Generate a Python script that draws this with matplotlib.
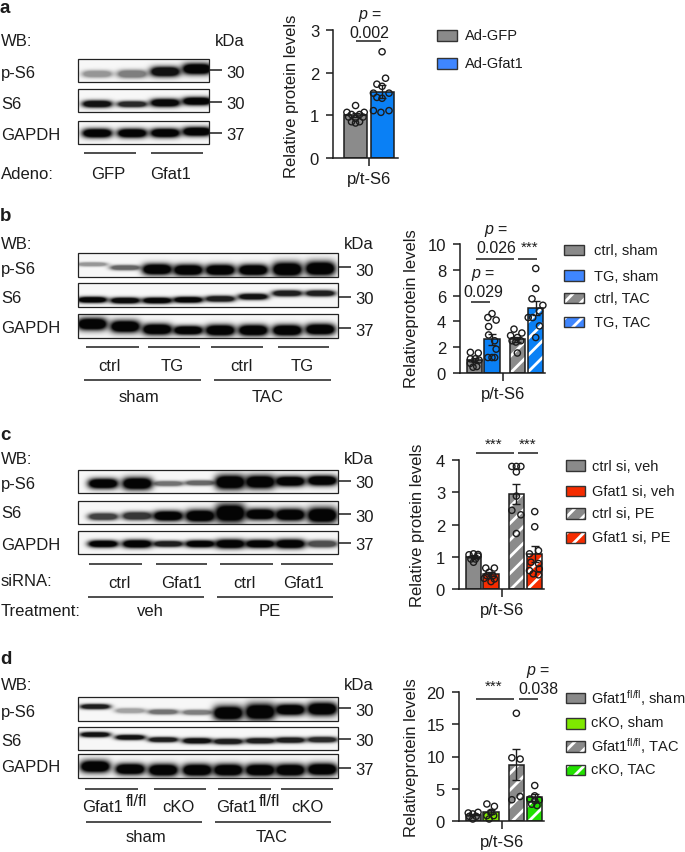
import matplotlib
matplotlib.use("Agg")
import matplotlib.pyplot as plt
from matplotlib.patches import Rectangle
import numpy as np

plt.rcParams["font.family"] = ["Liberation Sans", "DejaVu Sans"]
plt.rcParams["mathtext.fontset"] = "custom"
plt.rcParams["mathtext.rm"] = "Liberation Sans"
plt.rcParams["mathtext.it"] = "Liberation Sans:italic"
plt.rcParams["mathtext.default"] = "regular"
plt.rcParams["hatch.linewidth"] = 2.0

W, H = 685, 853
INK = "#1c1c1c"
GRAY, BLUE, RED, LIME, GREEN = "#8b8b8b", "#0a80f5", "#f52c00", "#7fe800", "#22e000"
FS = 12
LEG = 10.5
NUM = 11.5

# bar values and errors
a_means = [1.0, 1.55]
a_errs = [0.05, 0.15]
a_pts = [[1.23, 1.07, 1.07, 1.02, 1.02, 0.96, 0.96, 0.93, 0.85, 0.85, 0.82],
         [2.49, 1.87, 1.73, 1.68, 1.52, 1.52, 1.42, 1.40, 1.11, 1.11, 1.07]]
a_jit = [[0, -.75, .75, -.35, .35, -.6, .65, 0, -.35, .35, 0],
         [0, .3, -.45, 0, -.75, .6, -.45, 0, -.75, .6, -.1]]

b_means = [1.0, 2.6, 2.6, 5.05]
b_errs = [0.15, 0.4, 0.2, 0.55]
b_pts = [[1.6, 1.55, 1.1, 1.1, 1.0, 0.75, 0.45, 0.5],
         [4.6, 4.1, 4.3, 3.6, 2.95, 2.5, 1.85, 1.2, 1.2, 1.2],
         [3.4, 3.1, 2.9, 2.75, 2.5, 2.5, 2.4, 1.55],
         [8.1, 6.55, 5.75, 5.25, 4.8, 4.3, 4.3, 3.65, 2.75]]
b_jit = [[-.55, .5, -.55, .1, .6, -.55, -.2, .3],
         [0, .55, -.55, -.45, -.45, .35, .55, -.55, 0, .35],
         [-.45, .6, -.9, 0, -.7, .45, -.2, 0],
         [0, 0, -.5, .95, .5, -1.0, -.4, .5, 0]]

c_means = [1.0, 0.46, 2.95, 1.08]
c_errs = [0.04, 0.06, 0.3, 0.25]
c_pts = [[1.06, 1.09, 1.07, 0.93, 0.93, 0.83, 1.02],
         [0.65, 0.65, 0.52, 0.41, 0.41, 0.33, 0.31, 0.23],
         [3.8, 3.8, 3.8, 3.63, 2.88, 2.44, 2.3, 1.72],
         [2.4, 1.93, 1.09, 1.19, 0.83, 0.79, 0.57, 0.62, 0.47, 0.44]]
c_jit = [[-.6, 0, .6, -.35, .25, 0, .6],
         [-.7, .45, -.25, -.55, .25, -.9, .45, 0],
         [-.6, 0, .6, 0, 0, -.6, .6, 0],
         [0, 0, -.7, .5, -.5, .5, -.7, .6, -.2, .5]]

d_means = [1.0, 1.4, 8.7, 3.65]
d_errs = [0.1, 0.35, 2.4, 0.55]
d_pts = [[1.24, 1.34, 1.09, 0.72, 0.72, 0.31],
         [2.64, 2.27, 1.34, 0.83, 0.83, 0.31],
         [16.7, 9.8, 9.6, 3.8, 3.3],
         [5.5, 3.4, 3.25, 3.15, 2.6, 2.4, 3.9]]
d_jit = [[-.7, .6, -.1, -.55, .35, -.1],
         [-.55, .45, 0, -.55, .35, -.25],
         [0, -.6, .5, .5, -.6],
         [0, -.65, .6, 0, -.4, .3, 0]]

# band darkness, half thickness (px) and height inside the strip, one value per lane
a_blots = [([.4, .5, .95, 1], [3.5, 4, 5, 5.5], [.64, .64, .54, .42]),
           ([.95, .85, .98, 1], [3.5, 3, 4, 4], [.64, .65, .59, .52]),
           ([1, 1, 1, 1], [4.5, 4.5, 4.5, 4.5], [.52, .52, .51, .45])]
b_blots = [([.4, .6, 1, 1, 1, 1, 1, 1], [2, 2.5, 5.5, 5.5, 5.5, 5.5, 7, 7], [.46, .6, .67, .7, .7, .7, .67, .64]),
           ([1, .98, 1, 1, .9, .95, .9, .9], [3, 3, 3, 3, 3, 3, 3, 3], [.69, .72, .72, .69, .65, .56, .42, .42]),
           ([1, 1, 1, 1, 1, 1, 1, 1], [6, 6, 5.5, 4.5, 5.5, 5.5, 5.5, 5.5], [.41, .51, .63, .67, .67, .67, .67, .63])]
c_blots = [([1, 1, .55, .6, 1, 1, 1, 1], [5, 6, 2.5, 2.5, 7, 6.5, 5, 5], [.58, .58, .58, .55, .52, .51, .48, .45]),
           ([.75, .8, 1, 1, 1, 1, 1, 1], [3.5, 4, 5, 6, 9, 5.5, 6, 7.5], [.67, .64, .64, .64, .52, .57, .59, .61]),
           ([1, 1, .9, 1, 1, 1, 1, .7], [3.5, 4, 3, 3.5, 4.5, 4, 4.5, 3.5], [.55, .55, .55, .55, .55, .55, .55, .55])]
d_blots = [([.9, .35, .55, .5, 1, 1, 1, 1], [2.5, 2.5, 2.5, 2.5, 7, 8, 5.5, 6.5], [.39, .56, .61, .63, .66, .61, .52, .49]),
           ([.95, .95, .9, .95, .9, .9, .9, .85], [2.5, 2.5, 2.5, 2.8, 2.8, 2.8, 2.8, 2.8], [.32, .44, .54, .59, .62, .59, .56, .54]),
           ([1, 1, 1, 1, 1, 1, 1, 1], [6, 5.5, 6, 6, 6, 6, 6, 6], [.51, .62, .66, .66, .66, .66, .66, .63])]

fig = plt.figure(figsize=(W / 100, H / 100), dpi=100)
over = fig.add_axes([0, 0, 1, 1], zorder=5)
over.patch.set_alpha(0)
over.axis("off")


def txt(x, y, s, ha="left", size=FS, **kw):
    over.text(x, y, s, ha=ha, va="center", fontsize=size, color=INK, **kw)


def hline(x0, x1, y, lw=1.1):
    over.plot([x0, x1], [y, y], color=INK, lw=lw, solid_capstyle="butt")


def draw_blot(x0, x1, y0, y1, lanes, blot, half_w):
    dark, thick, ypos = blot
    xx, yy = np.meshgrid(np.arange(x0, x1, 0.5), np.arange(y0, y1, 0.5))
    clear = np.ones_like(xx)
    for xc, d, t, yf in zip(lanes, dark, thick, ypos):
        yc = y0 + yf * (y1 - y0)
        band = np.exp(-((xx - xc) / half_w) ** 4) * np.exp(-((yy - yc) / t) ** 2)
        clear *= 1 - np.clip(1.7 * band, 0, 1) * d
    over.imshow(0.95 * clear + 0.02, cmap="gray", vmin=0, vmax=1, extent=[x0, x1, y1, y0],
                aspect="auto", interpolation="bilinear", zorder=1)
    over.add_patch(Rectangle((x0, y0), x1 - x0, y1 - y0, fill=False, ec="#222222", lw=0.9, zorder=2))


def draw_wb(wb_y, names, name_y, strips, lanes, blots, ticks, nums, half_w=15):
    x1 = strips[0][1]
    txt(1, wb_y, "WB:")
    txt(374 if x1 > 300 else 245, wb_y, "kDa", ha="right")
    for name, y in zip(names, name_y):
        txt(1, y, name)
    for (x0, xe, y0, ye), blot in zip(strips, blots):
        draw_blot(x0, xe, y0, ye, lanes, blot, half_w)
    for ty, (num, ny) in zip(ticks, nums):
        hline(x1, x1 + 13, ty)
        txt(x1 + 17, ny, num)


def swatch(x0, x1, y0, y1, color, striped):
    if striped:
        over.add_patch(Rectangle((x0, y0), x1 - x0, y1 - y0, fc=color, ec="white", hatch="//", lw=0, zorder=3))
    else:
        over.add_patch(Rectangle((x0, y0), x1 - x0, y1 - y0, fc=color, lw=0, zorder=3))
    over.add_patch(Rectangle((x0, y0), x1 - x0, y1 - y0, fill=False, ec="#333333", lw=1.0, zorder=4))


def draw_bars(box, xs, xlim, means, errs, pts, jit, colors, striped, ymax, yticks, center, width):
    left, right, top, bottom = box
    ax = fig.add_axes([left / W, 1 - bottom / H, (right - left) / W, (bottom - top) / H])
    ax.patch.set_alpha(0)
    for x, m, e, p, j, c, s in zip(xs, means, errs, pts, jit, colors, striped):
        if s:
            ax.bar(x, m, width, color=c, edgecolor="white", hatch="//", lw=0, zorder=1)
            ax.bar(x, m, width, fill=False, edgecolor=INK, lw=1.1, zorder=2)
        else:
            ax.bar(x, m, width, color=c, edgecolor=INK, lw=1.1, zorder=2)
        ax.errorbar(x, m, yerr=e, color=INK, lw=1.0, capsize=3, capthick=1.0, zorder=3)
        ax.scatter(x + np.array(j) * width / 2, p, s=20, facecolors="none", edgecolors=INK,
                   linewidths=1.0, clip_on=False, zorder=4)
    ax.set_xlim(*xlim)
    ax.set_ylim(0, ymax)
    ax.set_yticks(yticks)
    ax.set_xticks([center])
    ax.set_xticklabels(["p/t-S6"], fontsize=FS)
    ax.tick_params(axis="y", labelsize=FS, length=5, width=1.1, pad=5, color=INK, labelcolor=INK)
    ax.tick_params(axis="x", length=5.5, width=1.1, pad=4, color=INK, labelcolor=INK)
    ax.spines[["top", "right"]].set_visible(False)
    ax.spines[["left", "bottom"]].set_linewidth(1.1)
    ax.spines[["left", "bottom"]].set_color(INK)
    return ax


def stars(x, y):
    txt(x, y, "***", ha="center", size=11)


P_EQ = r"$\it{p}$ ="
FOUR_X = [0, 1, 2.45, 3.5]
FOUR_LIM = (-0.83, 4.03)

# panel a
txt(0, 8, "a", weight="bold", size=13.5)
draw_wb(41, ["p-S6", "S6", "GAPDH"], [73, 104, 135],
        [(78, 209, 60, 83), (78, 209, 90, 113), (78, 209, 122, 145)],
        [97, 132, 165, 197], a_blots, [71, 103, 134], [("30", 73), ("30", 104), ("37", 135)], half_w=15)
hline(84, 136, 154)
hline(151, 203, 154)
txt(1, 174, "Adeno:")
txt(108, 174, "GFP", ha="center")
txt(171, 174, "Gfat1", ha="center")
draw_bars((333, 398, 31, 159), [0, 1], (-0.85, 1.6), a_means, a_errs, a_pts, a_jit, [GRAY, BLUE],
          [False, False], 3, [0, 1, 2, 3], 0.5, 0.87)
txt(292, 96, "Relative protein levels", ha="center", rotation=90)
txt(370, 16, P_EQ, ha="center", size=NUM)
txt(369, 33, "0.002", ha="center", size=NUM)
hline(356, 381, 42)
swatch(437, 457, 31, 42, "#8a8a8a", False)
swatch(437, 457, 59, 70, "#3f86ff", False)
txt(465, 36, "Ad-GFP", size=LEG)
txt(465, 64, "Ad-Gfat1", size=LEG)

# panel b
txt(0, 216, "b", weight="bold", size=13.5)
draw_wb(244, ["p-S6", "S6", "GAPDH"], [269, 298, 328],
        [(78, 338, 254, 278), (78, 338, 284, 308), (78, 338, 315, 339)],
        [92, 125, 157, 188, 220, 253, 287, 320], b_blots, [268, 298, 329],
        [("30", 271), ("30", 299), ("37", 331)])
for x0, x1 in [(86, 139), (148, 200), (211, 263), (278, 329)]:
    hline(x0, x1, 348)
for x, s in zip([109, 172, 241, 302], ["ctrl", "TG", "ctrl", "TG"]):
    txt(x, 366, s, ha="center")
hline(84, 201, 381)
hline(214, 331, 381)
txt(139, 397, "sham", ha="center")
txt(268, 397, "TAC", ha="center")
draw_bars((460, 545, 245, 374), FOUR_X, FOUR_LIM, b_means, b_errs, b_pts, b_jit, [GRAY, BLUE, GRAY, BLUE],
          [False, False, True, True], 10, [0, 2, 4, 6, 8, 10], 1.64, 0.86)
txt(412, 309, "Relativeprotein levels", ha="center", rotation=90)
txt(496, 231, P_EQ, ha="center", size=NUM)
txt(496, 248, "0.026", ha="center", size=NUM)
stars(530, 248)
hline(476, 514, 260)
hline(518, 537, 260)
txt(483, 275, P_EQ, ha="center", size=NUM)
txt(483, 292, "0.029", ha="center", size=NUM)
hline(471, 490, 303)
for (y0, y1), c, s, lab, ly in zip([(246, 256), (271, 282), (294, 304), (318, 328)],
                                   ["#8a8a8a", "#3f86ff", "#8a8a8a", "#3f86ff"], [False, False, True, True],
                                   ["ctrl, sham", "TG, sham", "ctrl, TAC", "TG, TAC"], [251, 277, 299, 323]):
    swatch(564, 584, y0, y1, c, s)
    txt(594, ly, lab, size=LEG)

# panel c
txt(0, 436, "c", weight="bold", size=13.5)
draw_wb(460, ["p-S6", "S6", "GAPDH"], [484, 514, 545],
        [(78, 338, 471, 494), (78, 338, 502, 525), (78, 338, 532, 555)],
        [103, 137, 168, 200, 230, 260, 290, 322], c_blots, [482, 515, 544],
        [("30", 484), ("30", 517), ("37", 545)])
for x0, x1 in [(89, 142), (156, 207), (220, 273), (281, 333)]:
    hline(x0, x1, 565)
txt(1, 582, "siRNA:")
for x, s in zip([119, 182, 244, 304], ["ctrl", "Gfat1", "ctrl", "Gfat1"]):
    txt(x, 583, s, ha="center")
hline(88, 204, 598)
hline(217, 333, 598)
txt(1, 612, "Treatment:")
txt(150, 612, "veh", ha="center")
txt(270, 612, "PE", ha="center")
draw_bars((459, 544, 461, 590), FOUR_X, FOUR_LIM, c_means, c_errs, c_pts, c_jit, [GRAY, RED, GRAY, RED],
          [False, False, True, True], 4, [0, 1, 2, 3, 4], 1.64, 0.86)
txt(418, 525, "Relative protein levels", ha="center", rotation=90)
stars(494, 445)
stars(528, 445)
hline(476, 514, 454)
hline(518, 538, 454)
for (y0, y1), c, s, lab, ly in zip([(461, 472), (487, 497), (509, 520), (533, 544)],
                                   ["#8a8a8a", RED, "#8a8a8a", RED], [False, False, True, True],
                                   ["ctrl si, veh", "Gfat1 si, veh", "ctrl si, PE", "Gfat1 si, PE"],
                                   [467, 492, 514, 538]):
    swatch(566, 585, y0, y1, c, s)
    txt(592, ly, lab, size=LEG)

# panel d
txt(0, 659, "d", weight="bold", size=13.5)
draw_wb(686, ["p-S6", "S6", "GAPDH"], [712, 741, 768],
        [(78, 338, 698, 722), (78, 338, 728, 751), (78, 338, 755, 779)],
        [95, 130, 163, 197, 228, 260, 290, 322], d_blots, [709, 740, 769],
        [("30", 712), ("30", 742), ("37", 771)])
for x0, x1 in [(85, 138), (154, 206), (218, 271), (281, 333)]:
    hline(x0, x1, 790)
txt(82, 808, "Gfat1")
txt(126, 802, "fl/fl")
txt(178, 808, "cKO", ha="center")
txt(216, 808, "Gfat1")
txt(259, 802, "fl/fl")
txt(307, 808, "cKO", ha="center")
hline(86, 202, 823)
hline(215, 331, 823)
txt(146, 838, "sham", ha="center")
txt(272, 838, "TAC", ha="center")
draw_bars((459, 544, 693, 822), FOUR_X, FOUR_LIM, d_means, d_errs, d_pts, d_jit, [GRAY, LIME, GRAY, GREEN],
          [False, False, True, True], 20, [0, 5, 10, 15, 20], 1.64, 0.86)
txt(412, 758, "Relativeprotein levels", ha="center", rotation=90)
stars(494, 687)
txt(538, 672, P_EQ, ha="center", size=NUM)
txt(538, 689, "0.038", ha="center", size=NUM)
hline(476, 514, 700)
hline(519, 538, 700)
FLFL = r"$^{fl/fl}$"
for (y0, y1), c, s, lab, ly in zip([(694, 704), (719, 730), (742, 753), (766, 776)],
                                   ["#8a8a8a", LIME, "#8a8a8a", GREEN], [False, False, True, True],
                                   ["Gfat1" + FLFL + ", sham", "cKO, sham", "Gfat1" + FLFL + ", TAC", "cKO, TAC"],
                                   [698, 723, 746, 770]):
    swatch(566, 585, y0, y1, c, s)
    txt(591, ly, lab, size=LEG)

over.set_xlim(0, W)
over.set_ylim(H, 0)
fig.savefig("out.png", dpi=100)
